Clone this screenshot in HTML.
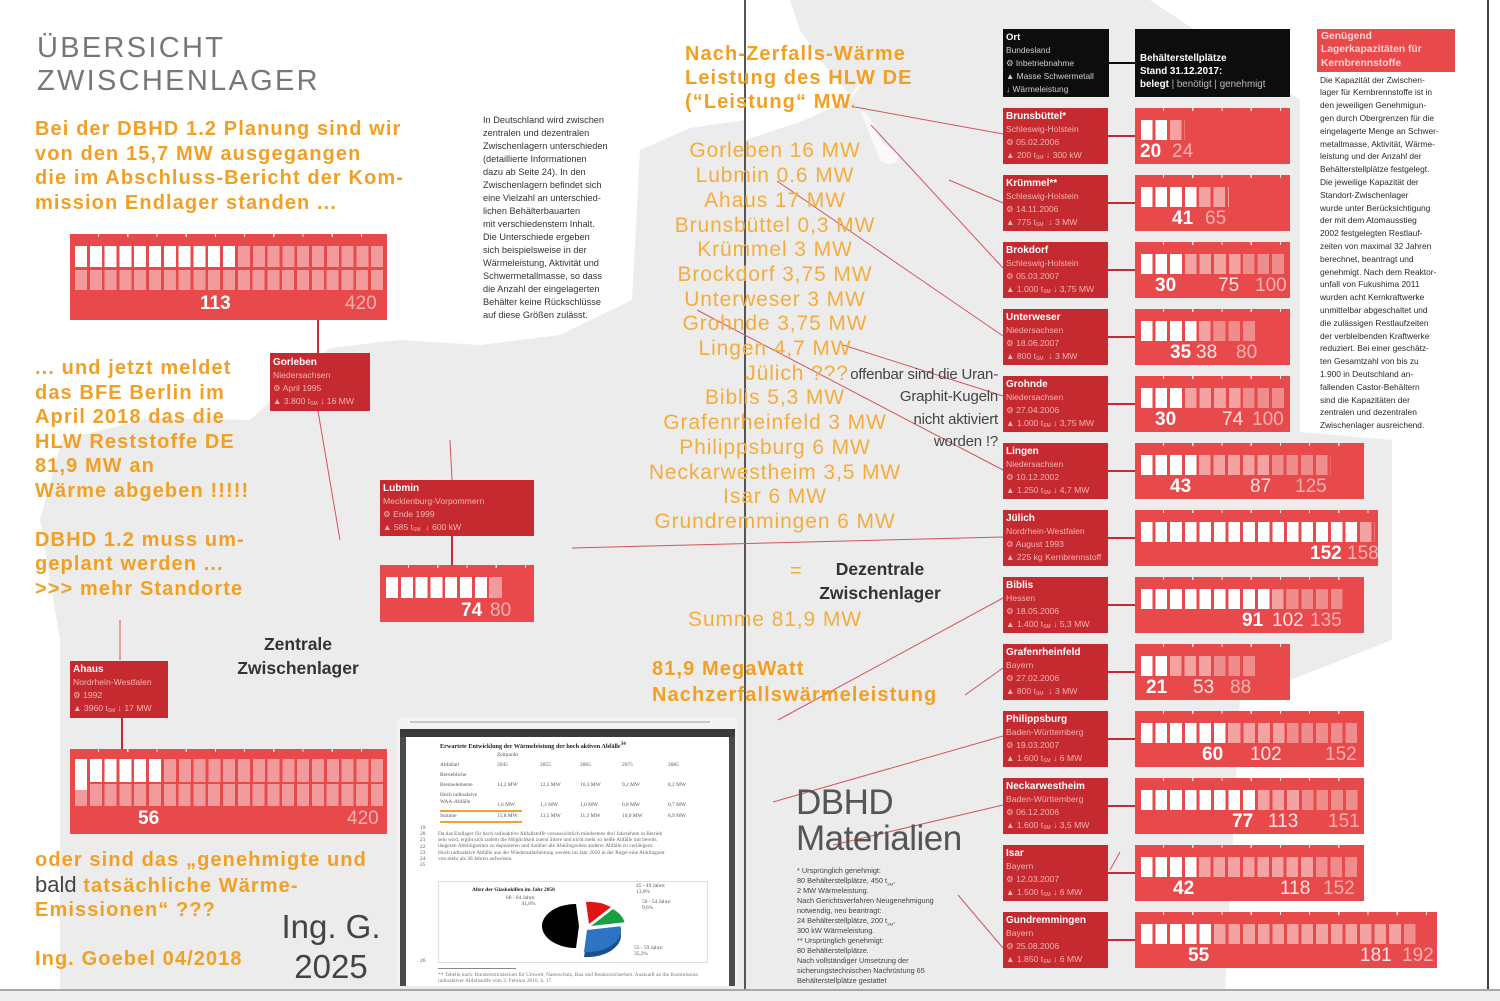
<!DOCTYPE html>
<html><head><meta charset="utf-8">
<style>
body{margin:0;padding:0;}
#c{position:relative;width:1500px;height:1001px;overflow:hidden;background:#fff;font-family:"Liberation Sans",sans-serif;}
.a{position:absolute;white-space:nowrap;}
.ob{color:#f2a024;font-weight:bold;font-size:20px;line-height:24.5px;letter-spacing:1.1px;}
.ol{color:#f4ad3d;font-size:21px;line-height:24.7px;letter-spacing:0.9px;text-align:center;}
.ib{position:absolute;background:#c52a30;color:#f3b3b3;font-size:8.6px;line-height:13px;padding:2px 0 0 3px;box-sizing:border-box;white-space:nowrap;overflow:hidden;}
.ib b{color:#fff;font-size:10px;display:block;}
.ib sub{font-size:5px;line-height:0;vertical-align:-1px;}
.bar{position:absolute;background:#e8494b;}
.bar::before{content:"";position:absolute;left:0;right:0;top:0;height:3px;background:repeating-linear-gradient(90deg,transparent 0 28px,rgba(255,255,255,.85) 28px 29.2px);}
.c{position:absolute;top:12px;height:20px;}
.w{background:repeating-linear-gradient(90deg,#fff 0 11.6px,transparent 11.6px 14.6px);}
.m{background:repeating-linear-gradient(90deg,#f4a3a3 0 11.6px,transparent 11.6px 14.6px);}
.p{background:repeating-linear-gradient(90deg,#ef8c8c 0 11.6px,transparent 11.6px 14.6px);}
.lw{background:repeating-linear-gradient(90deg,#fff 0 12px,transparent 12px 14.8px);}
.lm{background:repeating-linear-gradient(90deg,#f29b9c 0 12px,transparent 12px 14.8px);}
.n{position:absolute;font-size:19px;line-height:19px;top:34px;white-space:nowrap;}
.n1{color:#fff;font-weight:bold;}
.n2{color:#fde3e3;}
.n3{color:#f7b0b0;}
.con{position:absolute;background:#c52a30;width:28px;height:2px;left:1108px;}
.dt{position:absolute;white-space:nowrap;font-family:"Liberation Serif",serif;color:#555;font-size:5.4px;line-height:6px;}
</style></head><body>
<div id="c">

<!-- map background -->
<svg class="a" style="left:0;top:0" width="1500" height="1001">
<path d="M745,120 L690,128 L640,150 L632,300 L560,335 L480,345 L400,340 L330,348 L250,420 L150,418 L62,440 L40,520 L60,640 L60,990 L745,990 Z" fill="#ececec"/>
<path d="M745,140 L800,122 L850,100 L880,60 L900,0 L1150,0 L1300,100 L1300,432 L1392,440 L1392,640 L1240,700 L1225,990 L745,990 Z" fill="#ececec"/>
<path d="M790,0 L900,0 L880,60 L850,95 L820,60 L800,30 Z" fill="#ececec"/>
<path d="M860,110 C880,120 870,140 895,150 C905,160 890,170 880,160 Z" fill="#fff" opacity=".7"/>
</svg>

<!-- page lines -->
<div class="a" style="left:744px;top:0;width:2px;height:990px;background:#555"></div>
<div class="a" style="left:1487px;top:0;width:2px;height:990px;background:#444"></div>
<div class="a" style="left:0;top:989px;width:1500px;height:12px;background:#efefef;border-top:2px solid #a8a8a8"></div>

<!-- thin connector lines -->
<svg class="a" style="left:0;top:0" width="1500" height="1001">
<g stroke="#d4555b" stroke-width="1" fill="none">
<line x1="855" y1="107" x2="1003" y2="134"/>
<line x1="949" y1="180" x2="1003" y2="203"/>
<line x1="871" y1="125" x2="1003" y2="268"/>
<line x1="777" y1="181" x2="1003" y2="336"/>
<line x1="697" y1="310" x2="1003" y2="470"/>
<line x1="843" y1="345" x2="1003" y2="396"/>
<line x1="572" y1="548" x2="1003" y2="537"/>
<line x1="778" y1="720" x2="1003" y2="598"/>
<line x1="965" y1="695" x2="1003" y2="668"/>
<line x1="773" y1="802" x2="1003" y2="736"/>
<line x1="833" y1="845" x2="1003" y2="805"/>
<line x1="1110" y1="870" x2="1120" y2="852"/>
<line x1="958" y1="895" x2="1003" y2="948"/>
<line x1="318" y1="411" x2="340" y2="540"/>
<line x1="452" y1="480" x2="450" y2="440"/>
<line x1="120" y1="660" x2="120" y2="620"/>
</g>
<g stroke="#c52a30" stroke-width="2">
<line x1="318" y1="320" x2="318" y2="353"/>
<line x1="452" y1="536" x2="452" y2="565"/>
<line x1="122" y1="718" x2="122" y2="749"/>
</g>
<line x1="1109" y1="63" x2="1135" y2="63" stroke="#0d0d0d" stroke-width="2"/>
</svg>

<!-- title -->
<div class="a" style="left:37px;top:31.5px;font-size:29px;line-height:33px;letter-spacing:2.3px;color:#777">ÜBERSICHT<br>ZWISCHENLAGER</div>

<!-- orange left blocks -->
<div class="a ob" style="left:35px;top:117px">Bei der DBHD 1.2 Planung sind wir<br>von den 15,7 MW ausgegangen<br>die im Abschluss-Bericht der Kom-<br>mission Endlager standen ...</div>
<div class="a ob" style="left:35px;top:356px">... und jetzt meldet<br>das BFE Berlin im<br>April 2018 das die<br>HLW Reststoffe DE<br>81,9 MW an<br>Wärme abgeben !!!!!<br><br>DBHD 1.2 muss um-<br>geplant werden ...<br>&gt;&gt;&gt; mehr Standorte</div>
<div class="a ob" style="left:35px;top:848px">oder sind das „genehmigte und<br><span style="font-weight:normal;color:#444;font-size:22px;letter-spacing:0">bald</span> tatsächliche Wärme-<br>Emissionen“ ???<br><br>Ing. Goebel 04/2018</div>

<div class="a" style="left:231px;top:906.6px;width:200px;text-align:center;font-size:33px;line-height:40px;color:#444">Ing. G.<br>2025</div>

<div class="a" style="left:198px;top:631.7px;width:200px;text-align:center;font-size:17.5px;line-height:24.5px;font-weight:bold;color:#333">Zentrale<br>Zwischenlager</div>

<!-- left bar 1 -->
<div class="bar" style="left:70px;top:234px;width:317px;height:86px">
 <div class="c lw" style="left:5px;top:12px;height:21px;width:162.8px"></div>
 <div class="c lm" style="left:167.8px;top:12px;height:21px;width:148px"></div>
 <div class="c lm" style="left:5px;top:36px;height:20px;width:310.8px"></div>
 <div class="n n1" style="left:130px;top:60px">113</div>
 <div class="n n3" style="left:275px;top:60px">420</div>
</div>

<div class="ib" style="left:270px;top:353px;width:100px;height:58px;padding-top:3px"><b>Gorleben</b>Niedersachsen<br>⚙ April 1995<br>▲ 3.800 t<sub>SM</sub> ↓ 16 MW</div>

<div class="ib" style="left:380px;top:480px;width:154px;height:56px"><b>Lubmin</b>Mecklenburg-Vorpommern<br>⚙ Ende 1999<br>▲ 585 t<sub>SM</sub> &nbsp;↓ 600 kW</div>
<div class="bar" style="left:380px;top:565px;width:154px;height:57px">
 <div class="c lw" style="left:6px;top:12px;height:21px;width:103.6px"></div>
 <div class="c lm" style="left:109.6px;top:12px;height:21px;width:14.8px"></div>
 <div class="n n1" style="left:81px;top:36px">74</div>
 <div class="n n3" style="left:110px;top:36px">80</div>
</div>

<div class="ib" style="left:70px;top:661px;width:98px;height:57px"><b>Ahaus</b>Nordrhein-Westfalen<br>⚙ 1992<br>▲ 3960 t<sub>SM</sub> ↓ 17 MW</div>
<div class="bar" style="left:70px;top:749px;width:317px;height:85px">
 <div class="c lw" style="left:5px;top:10px;height:23px;width:88.8px"></div>
 <div class="c lm" style="left:93.8px;top:10px;height:23px;width:222px"></div>
 <div class="c lm" style="left:5px;top:35px;height:22px;width:310.8px"></div>
 <div class="c" style="left:5px;top:33px;height:8px;width:12px;background:#fff"></div>
 <div class="n n1" style="left:68px;top:60px">56</div>
 <div class="n n3" style="left:277px;top:60px">420</div>
</div>

<!-- middle paragraph -->
<div class="a" style="left:483px;top:114.3px;font-size:9.2px;line-height:13px;color:#333">In Deutschland wird zwischen<br>zentralen und dezentralen<br>Zwischenlagern unterschieden<br>(detaillierte Informationen<br>dazu ab Seite 24). In den<br>Zwischenlagern befindet sich<br>eine Vielzahl an unterschied-<br>lichen Behälterbauarten<br>mit verschiedenstem Inhalt.<br>Die Unterschiede ergeben<br>sich beispielsweise in der<br>Wärmeleistung, Aktivität und<br>Schwermetallmasse, so dass<br>die Anzahl der eingelagerten<br>Behälter keine Rückschlüsse<br>auf diese Größen zulässt.</div>

<!-- middle orange -->
<div class="a ob" style="left:685px;top:43.2px;line-height:23.8px">Nach-Zerfalls-Wärme<br>Leistung des HLW DE<br>(“Leistung“ MW.</div>
<div class="a ol" style="left:640px;top:139.4px;width:270px">Gorleben 16 MW<br>Lubmin 0.6 MW<br>Ahaus 17 MW<br>Brunsbüttel 0,3 MW<br>Krümmel 3 MW<br>Brockdorf 3,75 MW<br>Unterweser 3 MW<br>Grohnde 3,75 MW<br>Lingen 4,7 MW<br><span style="padding-left:44px">Jülich ???</span><br>Biblis 5,3 MW<br>Grafenrheinfeld 3 MW<br>Philippsburg 6 MW<br>Neckarwestheim 3,5 MW<br>Isar 6 MW<br>Grundremmingen 6 MW</div>
<div class="a" style="left:798px;top:363.5px;width:200px;text-align:right;font-size:15px;line-height:22.5px;color:#444;letter-spacing:-0.2px">offenbar sind die Uran-<br>Graphit-Kugeln<br>nicht aktiviert<br>worden !?</div>
<div class="a ol" style="left:640px;top:608.4px;width:270px">Summe 81,9 MW</div>
<div class="a" style="left:790px;top:560px;font-size:20px;color:#f4ad3d">=</div>
<div class="a" style="left:780px;top:556.7px;width:200px;text-align:center;font-size:17.5px;line-height:24.5px;font-weight:bold;color:#333">Dezentrale<br>Zwischenlager</div>
<div class="a ob" style="left:652px;top:657.3px;line-height:25.5px">81,9 MegaWatt<br>Nachzerfallswärmeleistung</div>

<div class="a" style="left:796px;top:784.9px;font-size:35px;line-height:36px;color:#555;letter-spacing:-0.5px">DBHD<br>Materialien</div>
<div class="a" style="left:797px;top:865.5px;font-size:7.3px;line-height:10px;color:#444">* Ursprünglich genehmigt:<br>80 Behälterstellplätze, 450 t<sub style="font-size:4px;line-height:0">SM</sub>,<br>2 MW Wärmeleistung.<br>Nach Gerichtsverfahren Neugenehmigung<br>notwendig, neu beantragt:<br>24 Behälterstellplätze, 200 t<sub style="font-size:4px;line-height:0">SM</sub>,<br>300 kW Wärmeleistung.<br>** Ursprünglich genehmigt:<br>80 Behälterstellplätze.<br>Nach vollständiger Umsetzung der<br>sicherungstechnischen Nachrüstung 65<br>Behälterstellplätze gestattet</div>

<!-- document screenshot -->
<div class="a" style="left:398px;top:718px;width:339px;height:268px;background:#f3f3f3">
 <div class="a" style="left:12px;top:3px;width:300px;height:2px;background:#c8c8c8"></div>
 <div class="a" style="left:2px;top:11px;width:335px;height:8px;background:#3a3a3a"></div>
 <div class="a" style="left:2px;top:19px;width:6px;height:249px;background:#4a4a4a"></div>
 <div class="a" style="left:331px;top:19px;width:6px;height:249px;background:#4a4a4a"></div>
 <div class="a" style="left:8px;top:19px;width:323px;height:249px;background:#fff;overflow:hidden">
  <div class="dt" style="left:34px;top:4px;font-weight:bold;color:#222;font-size:6.2px">Erwartete Entwicklung der Wärmeleistung der hoch aktiven Abfälle<sup>34</sup></div>
  <div class="dt" style="left:91px;top:15px">Zeitpunkt</div>
  <div class="dt" style="left:34px;top:25px">Abfallart</div>
  <div class="dt" style="left:91px;top:25px">2045</div><div class="dt" style="left:134px;top:25px">2055</div><div class="dt" style="left:174px;top:25px">2065</div><div class="dt" style="left:216px;top:25px">2075</div><div class="dt" style="left:262px;top:25px">2085</div>
  <div class="dt" style="left:34px;top:35px">Betriebliche</div>
  <div class="dt" style="left:34px;top:45px">Brennelemente</div>
  <div class="dt" style="left:91px;top:45px">14,2 MW</div><div class="dt" style="left:134px;top:45px">12,2 MW</div><div class="dt" style="left:174px;top:45px">10,3 MW</div><div class="dt" style="left:216px;top:45px">9,2 MW</div><div class="dt" style="left:262px;top:45px">8,2 MW</div>
  <div class="dt" style="left:34px;top:55px">Hoch radioaktive</div>
  <div class="dt" style="left:34px;top:62px">WAA-Abfälle</div>
  <div class="dt" style="left:91px;top:65px">1,6 MW</div><div class="dt" style="left:134px;top:65px">1,3 MW</div><div class="dt" style="left:174px;top:65px">1,0 MW</div><div class="dt" style="left:216px;top:65px">0,8 MW</div><div class="dt" style="left:262px;top:65px">0,7 MW</div>
  <div class="a" style="left:34px;top:73px;width:82px;height:1.5px;background:#f2a030"></div>
  <div class="dt" style="left:34px;top:76px">Summe</div>
  <div class="dt" style="left:91px;top:76px">15,8 MW</div><div class="dt" style="left:134px;top:76px">13,5 MW</div><div class="dt" style="left:174px;top:76px">11,3 MW</div><div class="dt" style="left:216px;top:76px">10,0 MW</div><div class="dt" style="left:262px;top:76px">8,9 MW</div>
  <div class="a" style="left:34px;top:84px;width:82px;height:1.5px;background:#f2a030"></div>
  <div class="dt" style="left:14px;top:88px;line-height:6.2px">19<br>20<br>21<br>22<br>23<br>24<br>25</div>
  <div class="dt" style="left:32px;top:94px;line-height:6.2px;color:#666">Da das Endlager für hoch radioaktive Abfallstoffe voraussichtlich mindestens drei Jahrzehnte in Betrieb<br>sein wird, ergibt sich zudem die Möglichkeit zuerst ältere und nicht mehr so heiße Abfälle mit bereits<br>längeren Abklingzeiten zu deponieren und darüber die Abklingzeiten anderer Abfälle zu verlängern.<br>Hoch radioaktive Abfälle aus der Wiederaufarbeitung werden im Jahr 2050 in der Regel eine Abklingzeit<br>von mehr als 30 Jahren aufweisen.</div>
  <div class="a" style="left:32px;top:144px;width:268px;height:80px;border:1px solid #ddd"></div>
  <div class="dt" style="left:66px;top:150px;font-weight:bold;color:#222">Alter der Glaskokillen im Jahr 2050</div>
  <div class="dt" style="left:100px;top:158px;text-align:right">60 - 64 Jahre:<br>41,8%</div>
  <div class="dt" style="left:230px;top:146px">45 - 49 Jahre:<br>13,0%</div>
  <div class="dt" style="left:236px;top:162px">50 - 54 Jahre:<br>9,6%</div>
  <div class="dt" style="left:228px;top:208px">55 - 59 Jahre:<br>35,2%</div>
  <svg class="a" style="left:129px;top:161px" width="100" height="64">
   <path d="M52,37 L85.5,33.2 A34,22 0 0 1 49,59 Z" fill="#1c4f8f"/>
   <path d="M52,32 L85.5,28.2 A34,22 0 0 1 49,54 Z" fill="#2f73c4"/>
   <path d="M44,28 L41,50 A34,22 0 0 1 41,6 Z" fill="#000"/>
   <path d="M54,26 L51,4 A34,22 0 0 1 75.9,9.1 Z" fill="#e01515"/>
   <path d="M56,28 L77.9,11.1 A34,22 0 0 1 89.5,24.2 Z" fill="#18a040"/>
  </svg>
  <div class="dt" style="left:14px;top:221px">26</div>
  <div class="a" style="left:32px;top:231px;width:78px;height:1px;background:#888"></div>
  <div class="dt" style="left:32px;top:235px;color:#777">** Tabelle nach: Bundesministerium für Umwelt, Naturschutz, Bau und Reaktorsicherheit. Auskunft an die Kommission<br>radioaktiver Abfallstoffe vom 2. Februar 2016, S. 17.</div>
 </div>
</div>

<!-- right header boxes -->
<div class="a" style="left:1003px;top:29px;width:106px;height:68px;background:#0d0d0d"></div>
<div class="a" style="left:1006px;top:30.5px;font-size:8.4px;line-height:13px;color:#cfcfcf"><b style="color:#fff;font-size:9.5px">Ort</b><br>Bundesland<br>⚙ Inbetriebnahme<br>▲ Masse Schwermetall<br>↓ Wärmeleistung</div>
<div class="a" style="left:1135px;top:29px;width:155px;height:68px;background:#0d0d0d"></div>
<div class="a" style="left:1140px;top:53.1px;font-size:9.8px;line-height:12.8px;color:#fff;font-weight:bold">Behälterstellplätze<br>Stand 31.12.2017:<br>belegt <span style="font-weight:normal;color:#bbb">| benötigt | genehmigt</span></div>
<div class="a" style="left:1317px;top:29px;width:138px;height:43px;background:#e8494b"></div>
<div class="a" style="left:1321px;top:29.6px;font-size:10.3px;line-height:13.5px;color:#fbd3d3;font-weight:bold">Genügend<br>Lagerkapazitäten für<br>Kernbrennstoffe</div>
<div class="a" style="left:1320px;top:73.7px;font-size:8.4px;line-height:12.8px;color:#2a2a2a">Die Kapazität der Zwischen-<br>lager für Kernbrennstoffe ist in<br>den jeweiligen Genehmigun-<br>gen durch Obergrenzen für die<br>eingelagerte Menge an Schwer-<br>metallmasse, Aktivität, Wärme-<br>leistung und der Anzahl der<br>Behälterstellplätze festgelegt.<br>Die jeweilige Kapazität der<br>Standort-Zwischenlager<br>wurde unter Berücksichtigung<br>der mit dem Atomausstieg<br>2002 festgelegten Restlauf-<br>zeiten von maximal 32 Jahren<br>berechnet, beantragt und<br>genehmigt. Nach dem Reaktor-<br>unfall von Fukushima 2011<br>wurden acht Kernkraftwerke<br>unmittelbar abgeschaltet und<br>die zulässigen Restlaufzeiten<br>der verbleibenden Kraftwerke<br>reduziert. Bei einer geschätz-<br>ten Gesamtzahl von bis zu<br>1.900 in Deutschland an-<br>fallenden Castor-Behältern<br>sind die Kapazitäten der<br>zentralen und dezentralen<br>Zwischenlager ausreichend.</div>

<!-- station rows -->
<div class="ib" style="left:1003px;top:108px;width:105px;height:56px"><b>Brunsbüttel*</b>Schleswig-Holstein<br>⚙ 05.02.2006<br>▲ 200 t<sub>SM</sub> ↓ 300 kW</div>
<div class="con" style="top:135px"></div>
<div class="bar" style="left:1135px;top:108px;width:155px;height:56px"><div class="c w" style="left:6px;width:29.2px"></div><div class="c m" style="left:35.2px;width:14.6px"></div><div class="n n1" style="left:5px">20</div><div class="n n3" style="left:37px">24</div></div>

<div class="ib" style="left:1003px;top:175px;width:105px;height:56px"><b>Krümmel**</b>Schleswig-Holstein<br>⚙ 14.11.2006<br>▲ 775 t<sub>SM</sub> &nbsp;↓ 3 MW</div>
<div class="con" style="top:202px"></div>
<div class="bar" style="left:1135px;top:175px;width:155px;height:56px"><div class="c w" style="left:6px;width:58.4px"></div><div class="c m" style="left:64.4px;width:29.2px"></div><div class="n n1" style="left:37px">41</div><div class="n n3" style="left:70px">65</div></div>

<div class="ib" style="left:1003px;top:242px;width:105px;height:56px"><b>Brokdorf</b>Schleswig-Holstein<br>⚙ 05.03.2007<br>▲ 1.000 t<sub>SM</sub> ↓ 3,75 MW</div>
<div class="con" style="top:269px"></div>
<div class="bar" style="left:1135px;top:242px;width:155px;height:56px"><div class="c w" style="left:6px;width:43.8px"></div><div class="c m" style="left:49.8px;width:58.4px"></div><div class="c p" style="left:108.2px;width:43.8px"></div><div class="n n1" style="left:20px">30</div><div class="n n2" style="left:83px">75</div><div class="n n3" style="left:120px">100</div></div>

<div class="ib" style="left:1003px;top:309px;width:105px;height:56px"><b>Unterweser</b>Niedersachsen<br>⚙ 18.06.2007<br>▲ 800 t<sub>SM</sub> &nbsp;↓ 3 MW</div>
<div class="con" style="top:336px"></div>
<div class="bar" style="left:1135px;top:309px;width:155px;height:56px"><div class="c w" style="left:6px;width:58.4px"></div><div class="c m" style="left:64.4px;width:14.6px"></div><div class="c p" style="left:79px;width:43.8px"></div><div class="n n1" style="left:35px">35</div><div class="n n2" style="left:61px">38</div><div class="n n3" style="left:101px">80</div></div>

<div class="ib" style="left:1003px;top:376px;width:105px;height:56px"><b>Grohnde</b>Niedersachsen<br>⚙ 27.04.2006<br>▲ 1.000 t<sub>SM</sub> ↓ 3,75 MW</div>
<div class="con" style="top:403px"></div>
<div class="bar" style="left:1135px;top:376px;width:155px;height:56px"><div class="c w" style="left:6px;width:43.8px"></div><div class="c m" style="left:49.8px;width:58.4px"></div><div class="c p" style="left:108.2px;width:43.8px"></div><div class="n n1" style="left:20px">30</div><div class="n n2" style="left:87px">74</div><div class="n n3" style="left:117px">100</div></div>

<div class="ib" style="left:1003px;top:443px;width:105px;height:56px"><b>Lingen</b>Niedersachsen<br>⚙ 10.12.2002<br>▲ 1.250 t<sub>SM</sub> ↓ 4,7 MW</div>
<div class="con" style="top:470px"></div>
<div class="bar" style="left:1135px;top:443px;width:229px;height:56px"><div class="c w" style="left:6px;width:58.4px"></div><div class="c m" style="left:64.4px;width:73px"></div><div class="c p" style="left:137.4px;width:58.4px"></div><div class="n n1" style="left:35px">43</div><div class="n n2" style="left:115px">87</div><div class="n n3" style="left:160px">125</div></div>

<div class="ib" style="left:1003px;top:510px;width:105px;height:56px"><b>Jülich</b>Nordrhein-Westfalen<br>⚙ August 1993<br>▲ 225 kg Kernbrennstoff</div>
<div class="con" style="top:537px"></div>
<div class="bar" style="left:1135px;top:510px;width:243px;height:56px"><div class="c w" style="left:6px;width:219px"></div><div class="c m" style="left:225px;width:14.6px"></div><div class="n n1" style="left:175px">152</div><div class="n n3" style="left:212px">158</div></div>

<div class="ib" style="left:1003px;top:577px;width:105px;height:56px"><b>Biblis</b>Hessen<br>⚙ 18.05.2006<br>▲ 1.400 t<sub>SM</sub> ↓ 5,3 MW</div>
<div class="con" style="top:604px"></div>
<div class="bar" style="left:1135px;top:577px;width:229px;height:56px"><div class="c w" style="left:6px;width:131.4px"></div><div class="c m" style="left:137.4px;width:14.6px"></div><div class="c p" style="left:152px;width:58.4px"></div><div class="n n1" style="left:107px">91</div><div class="n n2" style="left:137px">102</div><div class="n n3" style="left:175px">135</div></div>

<div class="ib" style="left:1003px;top:644px;width:105px;height:56px"><b>Grafenrheinfeld</b>Bayern<br>⚙ 27.02.2006<br>▲ 800 t<sub>SM</sub> &nbsp;↓ 3 MW</div>
<div class="con" style="top:671px"></div>
<div class="bar" style="left:1135px;top:644px;width:155px;height:56px"><div class="c w" style="left:6px;width:29.2px"></div><div class="c m" style="left:35.2px;width:43.8px"></div><div class="c p" style="left:79px;width:43.8px"></div><div class="n n1" style="left:11px">21</div><div class="n n2" style="left:58px">53</div><div class="n n3" style="left:95px">88</div></div>

<div class="ib" style="left:1003px;top:711px;width:105px;height:56px"><b>Philippsburg</b>Baden-Württemberg<br>⚙ 19.03.2007<br>▲ 1.600 t<sub>SM</sub> ↓ 6 MW</div>
<div class="con" style="top:738px"></div>
<div class="bar" style="left:1135px;top:711px;width:229px;height:56px"><div class="c w" style="left:6px;width:87.6px"></div><div class="c m" style="left:93.6px;width:58.4px"></div><div class="c p" style="left:152px;width:73px"></div><div class="n n1" style="left:67px">60</div><div class="n n2" style="left:115px">102</div><div class="n n3" style="left:190px">152</div></div>

<div class="ib" style="left:1003px;top:778px;width:105px;height:56px"><b>Neckarwestheim</b>Baden-Württemberg<br>⚙ 06.12.2006<br>▲ 1.600 t<sub>SM</sub> ↓ 3,5 MW</div>
<div class="con" style="top:805px"></div>
<div class="bar" style="left:1135px;top:778px;width:229px;height:56px"><div class="c w" style="left:6px;width:116.8px"></div><div class="c m" style="left:122.8px;width:43.8px"></div><div class="c p" style="left:166.6px;width:58.4px"></div><div class="n n1" style="left:97px">77</div><div class="n n2" style="left:133px">113</div><div class="n n3" style="left:193px">151</div></div>

<div class="ib" style="left:1003px;top:845px;width:105px;height:56px"><b>Isar</b>Bayern<br>⚙ 12.03.2007<br>▲ 1.500 t<sub>SM</sub> ↓ 6 MW</div>
<div class="con" style="top:872px"></div>
<div class="bar" style="left:1135px;top:845px;width:229px;height:56px"><div class="c w" style="left:6px;width:58.4px"></div><div class="c m" style="left:64.4px;width:116.8px"></div><div class="c p" style="left:181.2px;width:43.8px"></div><div class="n n1" style="left:38px">42</div><div class="n n2" style="left:145px">118</div><div class="n n3" style="left:188px">152</div></div>

<div class="ib" style="left:1003px;top:912px;width:105px;height:56px"><b>Gundremmingen</b>Bayern<br>⚙ 25.08.2006<br>▲ 1.850 t<sub>SM</sub> ↓ 6 MW</div>
<div class="con" style="top:939px"></div>
<div class="bar" style="left:1135px;top:912px;width:302px;height:56px"><div class="c w" style="left:6px;width:73px"></div><div class="c m" style="left:79px;width:189.8px"></div><div class="c p" style="left:268.8px;width:14.6px"></div><div class="n n1" style="left:53px">55</div><div class="n n2" style="left:225px">181</div><div class="n n3" style="left:267px">192</div></div>

</div>
</body></html>
